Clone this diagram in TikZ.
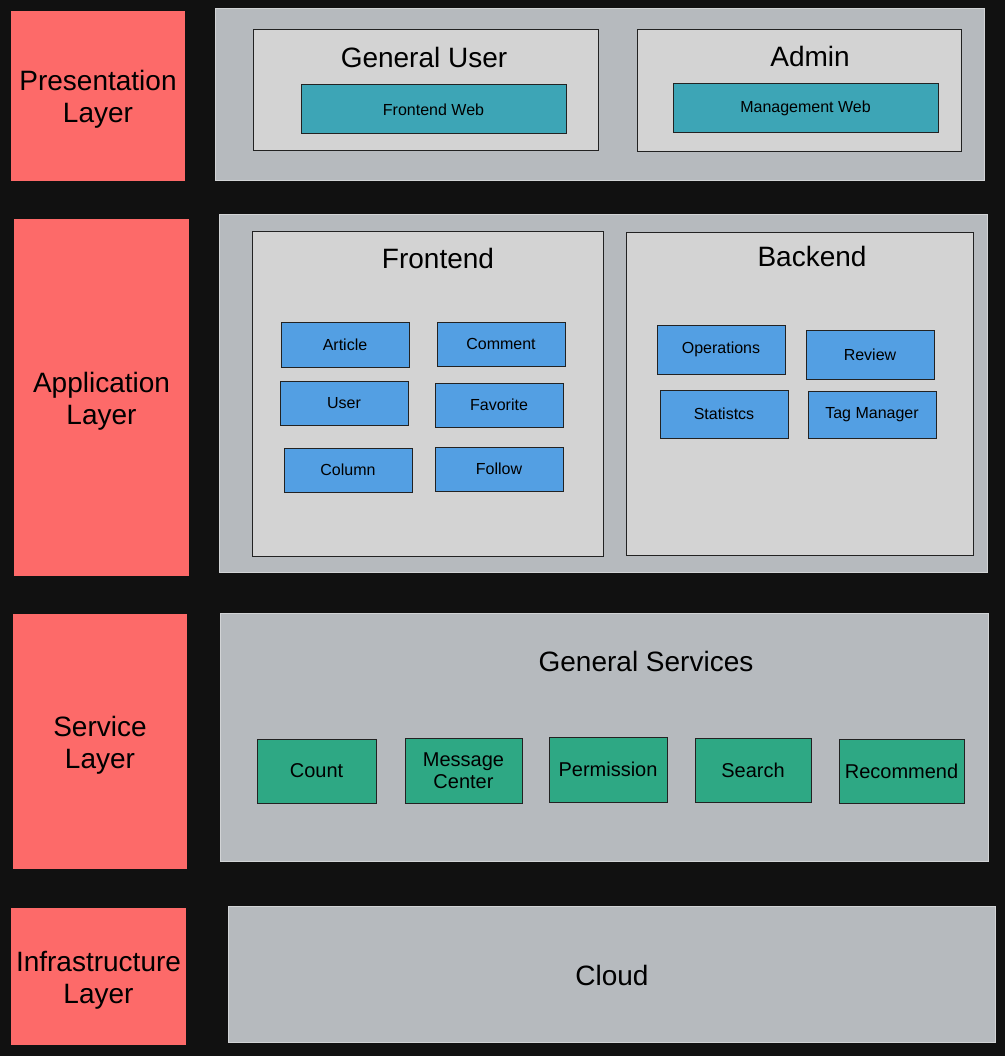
\documentclass[tikz,border=0pt]{standalone}
\usepackage{fontspec}
\setmainfont{Liberation Sans}
\definecolor{bgc}{HTML}{111111}
\definecolor{layerred}{HTML}{FD6A69}
\definecolor{outergrey}{HTML}{B6BABE}
\definecolor{outerline}{HTML}{D2D4D6}
\definecolor{innergrey}{HTML}{D3D3D3}
\definecolor{tealc}{HTML}{3DA5B6}
\definecolor{bluec}{HTML}{539FE3}
\definecolor{greenc}{HTML}{2EA884}
\definecolor{darkline}{HTML}{222222}
\newcommand\bx[7]{\node[#1,minimum width={#5-#3},minimum height={#6-#4}] (#2) at ({(#3+#5)/2},{(#4+#6)/2}) {#7};}
\newcommand\lstrut{\rule{0pt}{27pt}}
\begin{document}
\begin{tikzpicture}[x=1pt,y=-1pt,
  layerbox/.style={fill=layerred,draw=none,inner sep=0pt,align=center,font=\fontsize{28}{32}\selectfont,text=black},
  outerbox/.style={fill=outergrey,draw=outerline,line width=1pt,inner sep=0pt},
  groupbox/.style={fill=innergrey,draw=darkline,line width=1pt,inner sep=0pt},
  webbox/.style={fill=tealc,draw=darkline,line width=1pt,inner sep=0pt,font=\fontsize{16}{18}\selectfont},
  modbox/.style={fill=bluec,draw=darkline,line width=1pt,inner sep=0pt,font=\fontsize{16}{18}\selectfont},
  svcbox/.style={fill=greenc,draw=darkline,line width=1pt,inner sep=0pt,align=center,font=\fontsize{20}{22}\selectfont},
  titletext/.style={inner sep=0pt,font=\fontsize{28}{32}\selectfont}]
\fill[bgc] (0,0) rectangle (1005,1056);
\useasboundingbox (0,0) rectangle (1005,1056);

% Presentation layer
\bx{layerbox}{presL}{11}{11}{185}{181}{\lstrut Presentation\\Layer}
\bx{outerbox}{presO}{215}{9}{984}{181}{}
\bx{groupbox}{guser}{253}{30}{598}{151}{}
\node[titletext] (guserT) at (424,57) {General User};
\bx{webbox}{feweb}{301}{85}{566}{134}{Frontend Web}
\bx{groupbox}{admin}{637}{30}{961}{152}{}
\node[titletext] (adminT) at (810,56) {Admin};
\bx{webbox}{mgweb}{673}{84}{938}{133}{Management Web}

% Application layer
\bx{layerbox}{appL}{14}{219}{189}{576}{\lstrut Application\\Layer}
\bx{outerbox}{appO}{219}{215}{987}{572}{}
\bx{groupbox}{front}{252}{232}{603}{556}{}
\node[titletext] (frontT) at (438,258) {Frontend};
\bx{modbox}{article}{281}{322}{409}{367}{Article}
\bx{modbox}{comment}{437}{322}{565}{366}{Comment}
\bx{modbox}{user}{280}{381}{408}{425}{User}
\bx{modbox}{favorite}{435}{383}{563}{427}{Favorite}
\bx{modbox}{column}{284}{448}{412}{492}{Column}
\bx{modbox}{follow}{435}{447}{563}{491}{Follow}
\bx{groupbox}{back}{626}{233}{973}{555}{}
\node[titletext] (backT) at (812,256) {Backend};
\bx{modbox}{ops}{657}{325}{785}{374}{Operations}
\bx{modbox}{review}{806}{330}{934}{379}{Review}
\bx{modbox}{stats}{660}{390}{788}{438}{Statistcs}
\bx{modbox}{tagm}{808}{391}{936}{438}{Tag Manager}

% Service layer
\bx{layerbox}{svcL}{13}{614}{187}{869}{\lstrut Service\\Layer}
\bx{outerbox}{svcO}{220}{613}{988}{861}{}
\node[titletext] (svcT) at (646,661) {General Services};
\bx{svcbox}{count}{257}{739}{376}{803}{Count}
\bx{svcbox}{msg}{405}{738}{522}{803}{Message\\Center}
\bx{svcbox}{perm}{549}{737}{667}{802}{Permission}
\bx{svcbox}{search}{695}{738}{811}{802}{Search}
\bx{svcbox}{recom}{839}{739}{964}{803}{Recommend}

% Infrastructure layer
\bx{layerbox}{infL}{11}{908}{186}{1045}{\lstrut Infrastructure\\Layer}
\bx{outerbox}{infO}{228}{906}{995}{1042}{}
\node[titletext] (cloudT) at (612,975) {Cloud};
\end{tikzpicture}
\end{document}
